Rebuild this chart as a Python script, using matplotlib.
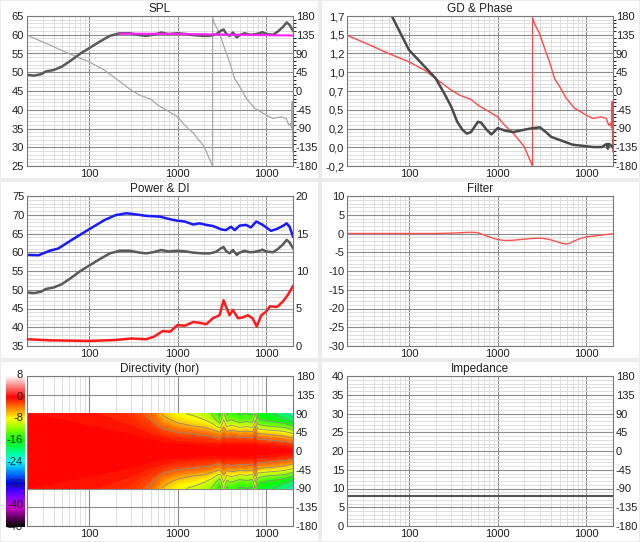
import numpy as np
import matplotlib.pyplot as plt
from matplotlib.colors import LinearSegmentedColormap
from matplotlib.patches import Rectangle
from matplotlib.ticker import NullFormatter

plt.rcParams['font.family'] = ['Liberation Sans', 'DejaVu Sans']
plt.rcParams['axes.unicode_minus'] = False

# SPL (dB) - same curve is used in Power & DI
spl_f = [20, 24, 29, 32.5, 40, 49.5, 64, 79, 100, 133, 172, 222, 289, 374, 445, 552, 655, 780,
         1000, 1250, 1500, 1920, 2290, 2700, 3100, 3300, 3500, 3850, 4200, 4650, 5000, 5700,
         6500, 7350, 8400, 9000, 10000, 11900, 13400, 15300, 17000, 18300, 20000]
spl_db = [49.3, 49.1, 49.5, 50.2, 50.6, 51.5, 53.3, 54.9, 56.4, 58.2, 59.7, 60.4, 60.4, 59.9,
          59.7, 60.1, 60.6, 60.2, 60.4, 60.2, 59.9, 59.7, 59.7, 60.1, 61.1, 61.4, 60.4, 59.7,
          60.6, 59.3, 59.9, 60.4, 60.0, 60.1, 60.4, 60.7, 60.2, 60.0, 60.8, 62.0, 63.3, 62.6, 61.1]

# target line
target_f = [222, 1000, 5000, 20000]
target_db = [60.3, 60.2, 60.0, 59.8]

# phase (deg)
phase_f = [20, 36.5, 56, 100, 150, 200, 300, 373, 500, 600, 750, 1000, 1200, 1500, 2000,
           2450, 2480, 2480, 2600, 2970, 3380, 3850, 4380, 5000, 5930, 7350, 10000, 11900,
           14700, 16800, 17900, 18700, 19300, 19600, 19800, 20000]
phase_deg = [134, 110, 92, 70, 50, 30, 2, -10, -20, -34, -46, -62, -82, -101, -134,
             -178, -180, 176, 162, 138, 103, 70, 30, 11, -17, -41, -58, -66,
             -62, -66, -82, -78, -88, -25, -140, -146]

# group delay (ms)
gd_f = [64, 100, 150, 200, 250, 300, 350, 400, 450, 500, 600, 650, 750, 850, 1000, 1200,
        1500, 2000, 2500, 3000, 3500, 4000, 5000, 7000, 10000, 12000, 15000, 17000, 17500,
        18000, 20000]
gd_ms = [1.70, 1.27, 1.06, 0.91, 0.72, 0.55, 0.36, 0.26, 0.21, 0.23, 0.36, 0.35, 0.26, 0.20,
         0.28, 0.25, 0.23, 0.26, 0.28, 0.29, 0.23, 0.17, 0.13, 0.07, 0.05, 0.04, 0.04, 0.08,
         0.02, 0.08, 0.04]

# power response (blue)
pow_f = [20, 27, 36, 45, 64, 100, 150, 200, 265, 340, 440, 630, 820, 1000, 1200, 1500, 1770,
         2100, 2500, 3100, 3500, 4000, 4400, 5000, 5900, 6700, 7700, 9100, 11300, 13400,
         15300, 17000, 18300, 20000]
pow_db = [59.3, 59.2, 60.4, 61.0, 63.3, 66.1, 68.6, 69.9, 70.4, 70.1, 69.7, 69.5, 68.8, 68.4,
          68.2, 67.4, 67.7, 67.3, 67.0, 66.1, 65.9, 66.8, 65.9, 67.1, 67.3, 66.6, 68.2, 67.3,
          65.7, 66.3, 67.0, 67.7, 66.8, 64.2]

# directivity index (dB, right axis)
di_f = [20, 36, 100, 200, 300, 440, 540, 680, 820, 1000, 1200, 1500, 1770, 2100, 2500, 2970,
        3300, 3500, 3850, 4200, 4800, 5400, 6200, 7000, 7800, 8800, 10000, 11000, 13200,
        15300, 17500, 20000]
di_db = [0.9, 0.76, 0.67, 0.8, 1.0, 0.9, 1.24, 2.0, 1.9, 2.8, 2.7, 3.2, 3.1, 2.9, 3.7, 4.1,
         6.1, 5.3, 4.1, 4.8, 3.7, 3.8, 4.1, 3.7, 2.6, 4.1, 4.6, 5.3, 5.2, 5.9, 6.8, 8.0]

# filter (dB)
filt_f = [20, 200, 350, 450, 550, 620, 700, 800, 900, 1000, 1200, 1500, 2000, 2500, 3000,
          3500, 4000, 4500, 5000, 5500, 6000, 6500, 7000, 8000, 9000, 10000, 12000, 15000, 20000]
filt_db = [0, 0, 0.15, 0.3, 0.3, 0.1, -0.4, -0.9, -1.3, -1.6, -1.85, -1.8, -1.5, -1.3, -1.25,
           -1.4, -1.7, -2.1, -2.4, -2.7, -2.8, -2.6, -2.2, -1.6, -1.2, -0.9, -0.7, -0.4, -0.1]

# impedance (ohm)
imp_f = [20, 20000]
imp_ohm = [8, 8]

# directivity map (dB rel. on-axis), angles 0..90
dir_angles = [0, 15, 30, 45, 60, 75, 90]
dir_f = [20, 300, 500, 700, 1000, 1500, 2000, 2500, 3000, 3300, 3600, 4000, 5000, 6000,
         7000, 7500, 8000, 10000, 13000, 16000, 20000]
dir_db = [
    [0, 0, -0.1, -0.2, -0.3, -0.4, -0.5],
    [0, -0.1, -0.3, -0.6, -1.0, -1.4, -1.8],
    [0, -0.2, -0.6, -1.2, -2.0, -2.8, -3.5],
    [0, -0.3, -1.0, -2.2, -3.8, -5.2, -6.5],
    [0, -0.4, -1.5, -3.0, -5.0, -7.0, -8.5],
    [0, -0.5, -1.8, -3.5, -6.0, -8.0, -9.5],
    [0, -0.6, -2.0, -4.0, -6.5, -9.0, -10.5],
    [0, -0.7, -2.4, -4.8, -8.0, -11.0, -12.5],
    [0, -0.8, -3.0, -6.0, -10.5, -14.0, -16.0],
    [0, -0.5, -2.0, -4.0, -6.5, -9.0, -11.0],
    [0, -0.7, -2.5, -5.5, -9.5, -13.0, -15.5],
    [0, -0.6, -2.2, -4.8, -8.5, -12.0, -14.0],
    [0, -0.6, -2.5, -5.5, -10.0, -13.5, -15.5],
    [0, -0.6, -2.5, -5.2, -9.5, -13.0, -15.0],
    [0, -0.7, -2.8, -5.8, -10.0, -13.5, -15.5],
    [0, -0.5, -1.8, -3.5, -6.0, -9.0, -11.5],
    [0, -0.9, -3.2, -6.8, -11.0, -14.5, -16.5],
    [0, -1.0, -3.5, -7.2, -12.0, -15.5, -17.5],
    [0, -1.2, -4.0, -7.8, -12.5, -16.5, -18.5],
    [0, -1.5, -4.5, -8.5, -13.0, -17.5, -20.5],
    [0, -2.0, -5.5, -10.0, -15.0, -19.5, -23.0],
]

cbar_ticks = [8, 0, -8, -16, -24, -32, -40, -48]
gd_ticklabels = ['-0,2', '0,0', '0,2', '0,5', '0,7', '1,0', '1,2', '1,5', '1,7']

W, H = 640, 542
fig = plt.figure(figsize=(W / 100, H / 100), dpi=100, facecolor='#ececec')

# white panels behind everything
for (x0, x1) in [(1, 318), (322, 639)]:
    for (y0, y1) in [(1, 178), (182, 358), (362, 541)]:
        fig.patches.append(Rectangle((x0 / W, 1 - y1 / H), (x1 - x0) / W, (y1 - y0) / H,
                                     transform=fig.transFigure, facecolor='white',
                                     edgecolor='none', zorder=-10))

xminor = [30, 40, 50, 60, 70, 80, 90, 200, 300, 400, 500, 600, 700, 800, 900,
          2000, 3000, 4000, 5000, 6000, 7000, 8000, 9000]
txt = '#202020'
major_c, minor_c = '#8c8c8c', '#dedede'


def make_ax(px_left, px_top, title):
    ax = fig.add_axes([px_left / W, 1 - (px_top + 150) / H, 266 / W, 150 / H])
    ax.set_xscale('log')
    ax.set_xlim(20, 20000)
    ax.set_xticks([100, 1000, 10000])
    ax.set_xticklabels(['100', '1000', '1000'])
    ax.set_xticks(xminor, minor=True)
    ax.xaxis.set_minor_formatter(NullFormatter())
    ax.tick_params(which='both', length=0, labelsize=8, pad=2, colors=txt)
    ax.grid(which='major', color=major_c, lw=0.8)
    ax.grid(which='minor', color=minor_c, lw=0.7)
    ax.set_axisbelow(True)
    for s in ax.spines.values():
        s.set_color('#7a7a7a')
    ax.set_title(title, fontsize=8.5, pad=3, color=txt)
    return ax


def right_ax(ax, lo, hi, step):
    a2 = ax.twinx()
    a2.set_ylim(lo, hi)
    a2.set_yticks(np.arange(lo, hi + 0.1, step))
    a2.tick_params(length=0, labelsize=8, pad=2, colors=txt)
    for s in a2.spines.values():
        s.set_visible(False)
    return a2


def grid_below(ax, a2):
    # move the grid to the (lower) twin so the right-axis curve sits above it
    ax.grid(False, which='both')
    a2.xaxis.set_visible(True)
    a2.tick_params(axis='x', which='both', labelbottom=False, length=0)
    a2.set_yticks(np.arange(-180, 180, 9), minor=True)
    a2.yaxis.set_minor_formatter(NullFormatter())
    a2.grid(which='major', color=major_c, lw=0.8)
    a2.grid(which='minor', color=minor_c, lw=0.7)
    a2.set_axisbelow(True)
    a2.patch.set_visible(True)
    a2.patch.set_facecolor('white')
    ax.set_zorder(a2.get_zorder() + 1)
    ax.patch.set_visible(False)


# SPL
ax = make_ax(27, 16, 'SPL')
ax.set_ylim(25, 65)
ax.set_yticks(np.arange(25, 66, 5))
ax2 = right_ax(ax, -180, 180, 45)
grid_below(ax, ax2)
ax2.plot(phase_f, phase_deg, color='#a8a8a8', lw=0.9)
ax.plot(spl_f, spl_db, color='#5a5a5a', lw=1.8)
ax.plot(target_f, target_db, color='#ff20ff', lw=1.5)

# GD & Phase
ax = make_ax(347, 16, 'GD & Phase')
ax.set_ylim(-0.2, 1.7)
ax.set_yticks(np.linspace(-0.2, 1.7, 9))
ax.set_yticklabels(gd_ticklabels)
ax2 = right_ax(ax, -180, 180, 45)
grid_below(ax, ax2)
ax2.plot(phase_f, phase_deg, color='#ff4848', lw=1.0)
ax.plot(gd_f, gd_ms, color='#4a4a4a', lw=1.8)

# Power & DI
ax = make_ax(27, 196, 'Power & DI')
ax.set_ylim(35, 75)
ax.set_yticks(np.arange(35, 76, 5))
ax.set_yticks(np.arange(35, 75, 1), minor=True)
ax.plot(pow_f, pow_db, color='#1a1aff', lw=1.8)
ax.plot(spl_f, spl_db, color='#5a5a5a', lw=1.8)
ax2 = right_ax(ax, 0, 20, 5)
ax2.plot(di_f, di_db, color='#ff1a1a', lw=1.8)

# Filter
ax = make_ax(347, 196, 'Filter')
ax.set_ylim(-30, 10)
ax.set_yticks(np.arange(-30, 11, 5))
ax.set_yticks(np.arange(-30, 10, 1), minor=True)
ax.plot(filt_f, filt_db, color='#ff5050', lw=1.0)

# Directivity
cmap = LinearSegmentedColormap.from_list('dircmap', [
    (0.0, '#000000'), (7 / 56, '#d000d0'), (11 / 56, '#8000ff'), (16 / 56, '#0000ff'),
    (24 / 56, '#00ffff'), (32 / 56, '#00ff00'), (40 / 56, '#ffff00'), (44 / 56, '#ff8000'),
    (48 / 56, '#ff0000'), (1.0, '#ffffff')])

ax = make_ax(27, 376, 'Directivity (hor)')
ax.set_ylim(-180, 180)
ax.set_yticks(np.arange(-180, 181, 45))
ax.grid(which='minor', axis='y', visible=False)
ax.yaxis.tick_right()
d = np.array(dir_db)
full = np.hstack([d[:, :0:-1], d])
angs = np.concatenate([-np.array(dir_angles[:0:-1]), dir_angles])
F, A = np.meshgrid(dir_f, angs, indexing='ij')
ax.contourf(F, A, full, levels=np.arange(-48, 8.5, 0.5), cmap=cmap, vmin=-48, vmax=8, zorder=1)
ax.contour(F, A, full, levels=[-21, -18, -15, -12, -9, -6, -3], colors='#8a8a8a',
           linewidths=0.6, linestyles='solid', zorder=2)

cax = fig.add_axes([6 / W, 1 - 527 / H, 19 / W, 152 / H])
cax.imshow(np.linspace(8, -48, 200).reshape(-1, 1), aspect='auto', cmap=cmap,
           vmin=-48, vmax=8, extent=[0, 1, -48, 8])
cax.set_xlim(0, 1)
cax.set_ylim(-48, 8)
cax.set_xticks([])
cax.set_yticks([])
for s in cax.spines.values():
    s.set_visible(False)
for v in cbar_ticks:
    cax.text(0.9, v, str(v), ha='right', va='center', fontsize=8, color=txt)

# Impedance
ax = make_ax(347, 376, 'Impedance')
ax.set_ylim(0, 40)
ax.set_yticks(np.arange(0, 41, 5))
ax.set_yticks(np.arange(0, 40, 1), minor=True)
ax2 = right_ax(ax, -180, 180, 45)
ax.plot(imp_f, imp_ohm, color='#555555', lw=1.5)

fig.savefig('out.png', dpi=100, facecolor=fig.get_facecolor())
